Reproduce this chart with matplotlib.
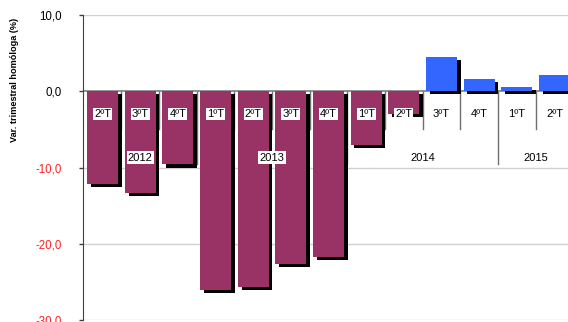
import matplotlib
matplotlib.use("Agg")
import matplotlib.pyplot as plt

quarters = ["2ºT", "3ºT", "4ºT", "1ºT", "2ºT", "3ºT", "4ºT",
            "1ºT", "2ºT", "3ºT", "4ºT", "1ºT", "2ºT"]
values = [-12.2, -13.4, -9.6, -26.0, -25.7, -22.6, -21.7,
          -7.0, -3.0, 4.5, 1.6, 0.5, 2.1]
years = ["2012", "2013", "2014", "2015"]
year_groups = [(0, 2), (3, 6), (7, 10), (11, 12)]
yticks = [10, 0, -10, -20, -30]
ytick_labels = ["10,0", "0,0", "-10,0", "-20,0", "-30,0"]

NEG = "#993366"
POS = "#3366FF"

fig = plt.figure(figsize=(5.68, 3.22), dpi=100)
ax = fig.add_axes([83 / 568, 2 / 322, 485 / 568, 305 / 322])
ax.set_xlim(-0.52, 12.36)
ax.set_ylim(-30, 10)

x = list(range(len(values)))
width = 0.82
dx, dy = 0.1, 0.4

# drop shadows
ax.bar([i + dx for i in x], values, width=width, bottom=[-dy] * len(x),
       color="black", zorder=3)
# bars
ax.bar(x, values, width=width,
       color=[POS if v > 0 else NEG for v in values], zorder=4)

# gridlines
for y in [10, -10, -20, -30]:
    ax.axhline(y, color="#d0d0d0", lw=1.0, zorder=0)
ax.axhline(0, color="#808080", lw=1.2, zorder=2)

# category separators (multi-level axis)
ends = {g[1] for g in year_groups}
for i in range(len(values) - 1):
    low = -9.6 if i in ends else -4.9
    ax.plot([i + 0.5, i + 0.5], [0, low], color="#707070", lw=1.0, zorder=1)

# quarter labels
for i, q in enumerate(quarters):
    ax.text(i, -3.0, q, ha="center", va="center", fontsize=8,
            family="Liberation Sans", zorder=6,
            bbox=dict(boxstyle="square,pad=0.1", fc="white", ec="none"))

# year labels
for yr, (a, b) in zip(years, year_groups):
    ax.text((a + b) / 2, -8.7, yr, ha="center", va="center", fontsize=8,
            family="Liberation Sans", zorder=6,
            bbox=dict(boxstyle="square,pad=0.1", fc="white", ec="none"))

ax.set_yticks(yticks)
ax.set_yticklabels(ytick_labels, family="Liberation Sans", fontsize=8.3)
for lbl, v in zip(ax.get_yticklabels(), yticks):
    lbl.set_color("#FF2020" if v < 0 else "black")
ax.tick_params(axis="y", length=3, width=1, color="#404040", pad=12)
ax.set_xticks([])

for s in ["top", "right", "bottom"]:
    ax.spines[s].set_visible(False)
ax.spines["left"].set_color("#404040")

fig.text(15 / 568, 1 - 80 / 322, "Var. trimestral homóloga (%)",
         rotation=90, ha="center", va="center",
         family=["Liberation Sans Narrow", "Liberation Sans"],
         fontsize=6.6, fontweight="bold")

fig.savefig("out.png", dpi=100)
